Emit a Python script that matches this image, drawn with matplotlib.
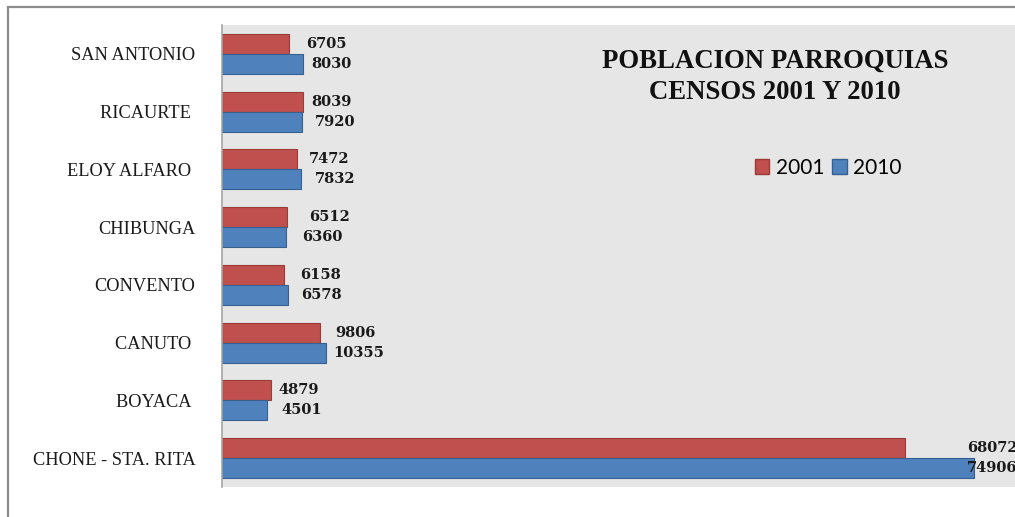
import matplotlib.pyplot as plt
import numpy as np
from matplotlib.patches import Patch, Rectangle

parroquias = ['SAN ANTONIO', 'RICAURTE ', 'ELOY ALFARO ', 'CHIBUNGA', 'CONVENTO',
              'CANUTO ', 'BOYACA ', 'CHONE - STA. RITA']
censo_2001 = [6705, 8039, 7472, 6512, 6158, 9806, 4879, 68072]
censo_2010 = [8030, 7920, 7832, 6360, 6578, 10355, 4501, 74906]

# label offsets from the bar end, in pixels (labels were placed by hand)
off_2001 = [17, 9, 12, 22, 16, 15, 7, 62]
off_2010 = [9, 13, 14, 16, 13, 7, 14, -7]

W, H = 1015, 517
fig = plt.figure(figsize=(W / 100, H / 100), dpi=100)

# outer chart frame
fig.patches.append(Rectangle((8 / W, -0.1), 1.2, 1 - 7 / H + 0.1, transform=fig.transFigure,
                             fill=False, edgecolor='#8c8c8c', linewidth=1.6))

xmax = 80000
px_per_unit = 752 / 74906
ax = fig.add_axes([222 / W, (H - 487) / H, xmax * px_per_unit / W, 462 / H])
ax.set_facecolor('#e6e6e6')

y = np.arange(len(parroquias))
h = 0.345
red = '#c0504d'
blue = '#4f81bd'
ax.barh(y - h / 2, censo_2001, height=h, color=red, edgecolor='#9b3b38', linewidth=0.8)
ax.barh(y + h / 2, censo_2010, height=h, color=blue, edgecolor='#36608f', linewidth=0.8)

for i in range(len(parroquias)):
    ax.annotate(str(censo_2001[i]), (censo_2001[i], y[i] - h / 2), xytext=(off_2001[i] * 0.72, 0),
                textcoords='offset points', va='center', ha='left',
                fontfamily='DejaVu Serif', fontweight='bold', fontsize=10.5, color='#1a1a1a')
    ax.annotate(str(censo_2010[i]), (censo_2010[i], y[i] + h / 2), xytext=(off_2010[i] * 0.72, 0),
                textcoords='offset points', va='center', ha='left',
                fontfamily='DejaVu Serif', fontweight='bold', fontsize=10.5, color='#1a1a1a')

ax.set_xlim(0, xmax)
ax.set_ylim(len(parroquias) - 0.5, -0.5)
ax.set_xticks([])
ax.set_yticks(y)
ax.set_yticklabels(parroquias, fontfamily='Liberation Serif', fontsize=13.2, color='#1a1a1a')
ax.tick_params(axis='y', length=0, pad=19)
for s in ['top', 'right', 'bottom']:
    ax.spines[s].set_visible(False)
ax.spines['left'].set_color('#a6a6a6')
ax.spines['left'].set_linewidth(1.2)

fig.text(775 / W, 1 - 77 / H, 'POBLACION PARROQUIAS\nCENSOS 2001 Y 2010', ha='center', va='center',
         fontfamily='Liberation Serif', fontweight='bold', fontsize=19.3, linespacing=1.3,
         color='#111111')

handles = [Patch(facecolor=red, edgecolor='#9b3b38'), Patch(facecolor=blue, edgecolor='#36608f')]
fig.legend(handles, ['2001', '2010'], loc='center left', bbox_to_anchor=(736 / W, 1 - 168 / H),
           ncol=2, frameon=False, prop={'family': 'Lato', 'size': 15},
           handlelength=0.7, handleheight=0.7, handletextpad=0.3, columnspacing=0.4)

plt.savefig('out.png', dpi=100)
